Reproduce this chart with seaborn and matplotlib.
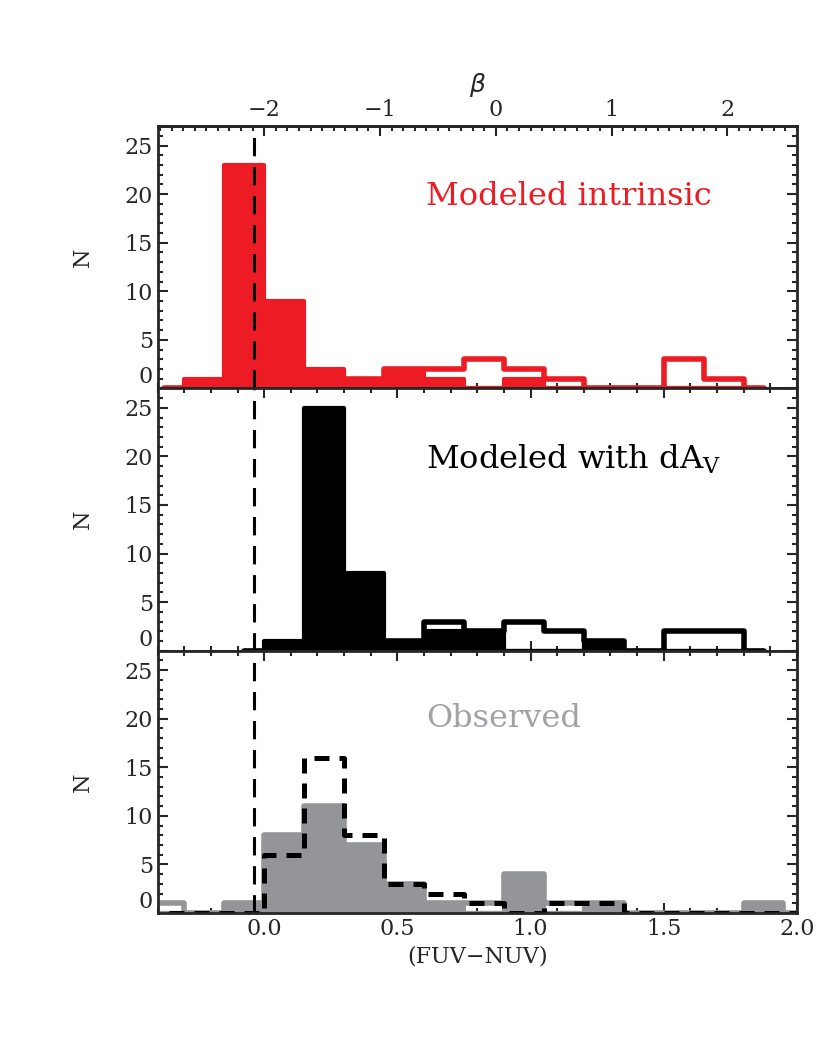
import matplotlib
matplotlib.use("Agg")
import matplotlib.pyplot as plt
from matplotlib.ticker import MultipleLocator
import numpy as np
import seaborn as sns

# --- bin edges (FUV-NUV), half bins at the ends like the original step plot ---
edges_top = [-0.375, -0.30, -0.15, 0.0, 0.15, 0.30, 0.45, 0.60, 0.75, 0.90,
             1.05, 1.20, 1.35, 1.50, 1.65, 1.80, 1.875]
edges_mid = [-0.075, 0.0, 0.15, 0.30, 0.45, 0.60, 0.75, 0.90,
             1.05, 1.20, 1.35, 1.50, 1.65, 1.80, 1.875]
edges_bot = [-0.45, -0.30, -0.15, 0.0, 0.15, 0.30, 0.45, 0.60, 0.75, 0.90,
             1.05, 1.20, 1.35, 1.50, 1.65, 1.80, 1.95, 2.10]

# --- counts ---
intrinsic_fill = [0, 1, 23, 9, 2, 1, 2, 1, 0, 1, 0, 0, 0, 0, 0, 0]
intrinsic_line = [0, 0, 0, 0, 1, 1, 2, 2, 3, 2, 1, 0, 0, 3, 1, 0]
dav_fill = [0, 1, 25, 8, 1, 2, 2, 0, 0, 1, 0, 0, 0, 0]
dav_line = [0, 0, 0, 0, 1, 3, 2, 3, 2, 1, 0, 2, 2, 0]
obs_fill = [0, 0, 1, 8, 11, 7, 3, 1, 0, 4, 0, 1, 0, 0, 0, 1, 0]
obs_line = [1, 0, 1, 8, 11, 7, 3, 1, 1, 4, 1, 1, 0, 0, 0, 1, 0]
obs_model = [0, 0, 0, 6, 16, 8, 3, 2, 1, 0, 1, 1, 0, 0, 0, 0, 0]

beta_ticks = [-2, -1, 0, 1, 2]
color_ticks = [0.0, 0.5, 1.0, 1.5, 2.0]
n_ticks = [0, 5, 10, 15, 20, 25]
blue_limit = -0.04

RED = "#ED1C24"
GREY = "#939598"

sns.set_style("ticks")
plt.rcParams["font.family"] = ["DejaVu Serif"]
plt.rcParams["axes.linewidth"] = 2.0


def centers(edges):
    e = np.asarray(edges)
    return (e[:-1] + e[1:]) / 2


def hist(ax, edges, counts, color, fill, **kw):
    sns.histplot(x=centers(edges), weights=counts, bins=edges, element="step",
                 fill=fill, color=color, alpha=1, ax=ax, **kw)


fig = plt.figure(figsize=(8.3, 10.38), dpi=100)
left, width, h = 0.190, 0.770, 0.2527
bottoms = [0.1204 + 2 * h, 0.1204 + h, 0.1204]
axs = [fig.add_axes([left, b, width, h]) for b in bottoms]

label_kw = dict(fontsize=23, va="center")

# 1. modeled intrinsic
hist(axs[0], edges_top, intrinsic_fill, RED, True, linewidth=3, edgecolor=RED)
hist(axs[0], edges_top, intrinsic_line, RED, False, linewidth=4)
axs[0].text(0.42, 0.73, "Modeled intrinsic", color=RED,
            transform=axs[0].transAxes, **label_kw)

# 2. modeled with dA_V
hist(axs[1], edges_mid, dav_fill, "black", True, linewidth=3, edgecolor="black")
hist(axs[1], edges_mid, dav_line, "black", False, linewidth=4)
axs[1].text(0.42, 0.73, r"Modeled with dA$_\mathregular{V}$", color="black",
            transform=axs[1].transAxes, **label_kw)

# 3. observed
hist(axs[2], edges_bot, obs_fill, GREY, True, linewidth=3, edgecolor=GREY)
hist(axs[2], edges_bot, obs_line, GREY, False, linewidth=4)
hist(axs[2], edges_bot, obs_model, "black", False, linewidth=3.6,
     linestyle=(0, (3, 2)))
axs[2].text(0.42, 0.74, "Observed", color="#A0A2A5",
            transform=axs[2].transAxes, **label_kw)

for i, ax in enumerate(axs):
    ax.axvline(blue_limit, color="black", lw=2.2, linestyle=(0, (6, 3.5)))
    ax.set_xlim(-0.4, 2.0)
    ax.set_ylim(0, 27)
    ax.set_xticks(color_ticks)
    ax.set_yticks(n_ticks)
    ax.xaxis.set_minor_locator(MultipleLocator(0.1))
    ax.yaxis.set_minor_locator(MultipleLocator(1))
    ax.tick_params(which="both", direction="in", top=(i > 0), right=True,
                   width=1.5, labelsize=16)
    ax.tick_params(which="major", length=7.5)
    ax.tick_params(which="minor", length=3.8)
    ax.yaxis.get_major_ticks()[0].label1.set_verticalalignment("bottom")
    ax.set_ylabel("N", fontsize=16, labelpad=22)
    if i < 2:
        ax.tick_params(labelbottom=False)
        ax.set_xlabel("")
    else:
        ax.set_xlabel("(FUV\u2212NUV)", fontsize=16, labelpad=4)

# top beta axis
sec = axs[0].secondary_xaxis("top", functions=(lambda c: 2.3 * c - 2.0,
                                               lambda b: (b + 2.0) / 2.3))
sec.set_xticks(beta_ticks)
sec.xaxis.set_minor_locator(MultipleLocator(0.1))
sec.tick_params(which="both", direction="in", width=1.5, labelsize=16)
sec.tick_params(which="major", length=7.5)
sec.tick_params(which="minor", length=3.8)
sec.set_xlabel(r"$\beta$", fontsize=18, labelpad=5, family="DejaVu Sans")

fig.savefig("out.png", dpi=100)
